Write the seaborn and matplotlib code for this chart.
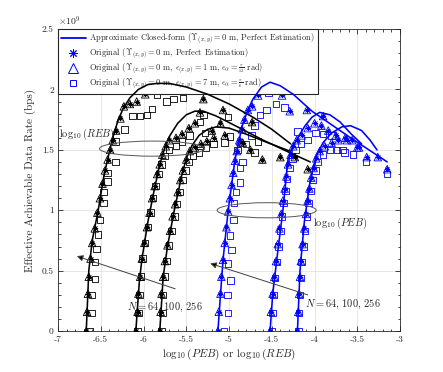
import matplotlib
matplotlib.use("Agg")
import numpy as np
import pandas as pd
import seaborn as sns
import matplotlib.pyplot as plt
from matplotlib.patches import Ellipse
from matplotlib.lines import Line2D
from matplotlib.ticker import MultipleLocator, FuncFormatter

# ---------------- data (rate in units of 1e9 bps) ----------------
# Closed-form curves: REB (black) N=256,100,64 ; PEB (blue) N=256,100,64
cf_A_x = [-6.67, -6.64, -6.60, -6.53, -6.46, -6.41, -6.36, -6.30, -6.24, -6.16, -6.06, -5.95, -5.84, -5.70, -5.50, -5.25, -5.00, -4.72, -4.50, -4.28]
cf_A_y = [0.00, 0.50, 0.75, 1.00, 1.30, 1.45, 1.60, 1.74, 1.84, 1.93, 2.00, 2.04, 2.05, 2.05, 2.02, 1.96, 1.88, 1.77, 1.67, 1.55]
cf_B_x = [-6.09, -6.05, -6.02, -5.95, -5.88, -5.81, -5.75, -5.69, -5.60, -5.50, -5.40, -5.30, -5.15, -4.90, -4.60, -4.30, -4.05]
cf_B_y = [0.00, 0.40, 0.59, 0.90, 1.15, 1.38, 1.52, 1.62, 1.72, 1.79, 1.82, 1.82, 1.78, 1.69, 1.58, 1.48, 1.40]
cf_C_x = [-5.81, -5.77, -5.72, -5.64, -5.55, -5.49, -5.43, -5.35, -5.25, -5.15, -5.00, -4.80, -4.55, -4.29]
cf_C_y = [0.00, 0.45, 0.70, 1.00, 1.30, 1.45, 1.54, 1.62, 1.67, 1.69, 1.68, 1.63, 1.56, 1.49]
cf_D_x = [-5.13, -5.10, -5.07, -5.01, -4.93, -4.89, -4.85, -4.78, -4.72, -4.62, -4.52, -4.40, -4.25, -4.03, -3.60, -3.15]
cf_D_y = [0.00, 0.30, 0.59, 1.00, 1.42, 1.55, 1.69, 1.83, 1.92, 2.02, 2.06, 2.03, 1.96, 1.82, 1.61, 1.40]
cf_E_x = [-4.52, -4.49, -4.44, -4.37, -4.31, -4.26, -4.18, -4.11, -4.03, -3.94, -3.82, -3.70, -3.57, -3.45]
cf_E_y = [0.00, 0.30, 0.60, 1.00, 1.42, 1.52, 1.62, 1.70, 1.77, 1.81, 1.79, 1.73, 1.63, 1.55]
cf_F_x = [-4.20, -4.17, -4.12, -4.05, -3.98, -3.90, -3.80, -3.68, -3.58, -3.45, -3.35, -3.27]
cf_F_y = [0.00, 0.50, 0.90, 1.25, 1.45, 1.56, 1.64, 1.69, 1.70, 1.66, 1.58, 1.50]

# Simulated points, eps=1 m (triangles; perfect-estimation stars coincide)
tri_A_x = [-6.67, -6.66, -6.65, -6.64, -6.62, -6.60, -6.57, -6.54, -6.51, -6.48, -6.45, -6.42, -6.39, -6.36, -6.32, -6.27, -6.23, -6.16, -6.08, -5.98, -5.90, -5.81, -5.73, -5.63, -5.49, -5.30, -5.07, -4.73]
tri_A_y = [0.00, 0.16, 0.31, 0.45, 0.60, 0.73, 0.85, 0.98, 1.10, 1.22, 1.33, 1.42, 1.50, 1.58, 1.66, 1.76, 1.86, 1.88, 1.90, 1.96, 2.04, 2.03, 2.02, 2.02, 2.01, 1.92, 1.83, 1.73]
tri_B_x = [-6.09, -6.07, -6.06, -6.04, -6.02, -5.99, -5.96, -5.93, -5.90, -5.87, -5.84, -5.81, -5.78, -5.74, -5.70, -5.62, -5.55, -5.47, -5.40, -5.34, -5.20, -5.10, -4.84, -4.61, -4.08]
tri_B_y = [0.00, 0.16, 0.31, 0.45, 0.60, 0.73, 0.86, 0.98, 1.10, 1.20, 1.30, 1.38, 1.46, 1.53, 1.58, 1.60, 1.63, 1.68, 1.72, 1.81, 1.66, 1.72, 1.56, 1.42, 1.34]
tri_C_x = [-5.81, -5.80, -5.79, -5.77, -5.75, -5.72, -5.69, -5.66, -5.63, -5.60, -5.57, -5.54, -5.50, -5.46, -5.40, -5.33, -5.26, -5.18, -5.05, -4.87, -4.75, -4.40, -4.23]
tri_C_y = [0.00, 0.16, 0.31, 0.45, 0.58, 0.71, 0.83, 0.95, 1.05, 1.15, 1.25, 1.33, 1.42, 1.49, 1.52, 1.55, 1.57, 1.60, 1.62, 1.57, 1.50, 1.44, 1.44]
tri_D_x = [-5.13, -5.12, -5.10, -5.09, -5.07, -5.05, -5.03, -5.01, -4.99, -4.97, -4.95, -4.93, -4.91, -4.88, -4.85, -4.82, -4.78, -4.73, -4.66, -4.60, -4.52, -4.44, -4.38, -4.29, -4.09, -3.90]
tri_D_y = [0.00, 0.16, 0.31, 0.45, 0.59, 0.73, 0.86, 0.99, 1.10, 1.21, 1.31, 1.41, 1.49, 1.58, 1.67, 1.75, 1.83, 1.86, 1.95, 2.05, 2.05, 2.03, 1.95, 1.82, 1.83, 1.78]
tri_E_x = [-4.52, -4.51, -4.49, -4.47, -4.45, -4.43, -4.41, -4.39, -4.37, -4.35, -4.33, -4.31, -4.28, -4.25, -4.21, -4.15, -4.08, -4.00, -3.92, -3.84, -3.75, -3.62, -3.50]
tri_E_y = [0.00, 0.16, 0.31, 0.45, 0.58, 0.72, 0.85, 0.97, 1.08, 1.18, 1.28, 1.38, 1.46, 1.53, 1.58, 1.62, 1.68, 1.72, 1.70, 1.66, 1.62, 1.58, 1.52]
tri_F_x = [-4.20, -4.19, -4.18, -4.17, -4.16, -4.14, -4.12, -4.10, -4.08, -4.06, -4.04, -4.01, -3.98, -3.94, -3.88, -3.80, -3.72, -3.64, -3.56, -3.48, -3.39, -3.26, -3.15]
tri_F_y = [0.00, 0.16, 0.31, 0.45, 0.58, 0.72, 0.85, 0.97, 1.08, 1.18, 1.27, 1.35, 1.43, 1.49, 1.53, 1.56, 1.58, 1.60, 1.58, 1.52, 1.44, 1.44, 1.34]

# Simulated points, eps=7 m (squares)
sq_A_x = [-6.63, -6.61, -6.60, -6.57, -6.57, -6.55, -6.53, -6.51, -6.47, -6.47, -6.42, -6.42, -6.33, -6.33, -6.22, -6.13, -6.04, -5.96, -5.90, -5.84, -5.73, -5.65, -5.54, -5.30, -5.01]
sq_A_y = [0.00, 0.15, 0.30, 0.43, 0.57, 0.68, 0.80, 0.92, 1.06, 1.15, 1.24, 1.31, 1.40, 1.57, 1.67, 1.78, 1.78, 1.79, 1.84, 1.96, 1.90, 1.92, 1.93, 1.79, 1.77]
sq_B_x = [-6.07, -6.06, -6.05, -6.03, -6.01, -5.98, -5.95, -5.92, -5.89, -5.86, -5.82, -5.79, -5.75, -5.70, -5.62, -5.55, -5.46, -5.34, -5.28, -4.99, -4.66]
sq_B_y = [0.00, 0.15, 0.30, 0.45, 0.60, 0.73, 0.86, 0.98, 1.10, 1.20, 1.30, 1.38, 1.45, 1.50, 1.53, 1.57, 1.62, 1.73, 1.64, 1.61, 1.57]
sq_C_x = [-5.79, -5.78, -5.77, -5.75, -5.73, -5.70, -5.67, -5.64, -5.61, -5.58, -5.54, -5.51, -5.47, -5.42, -5.35, -5.27, -5.18, -5.05, -4.90, -4.70]
sq_C_y = [0.00, 0.15, 0.30, 0.45, 0.58, 0.71, 0.83, 0.95, 1.05, 1.15, 1.25, 1.33, 1.40, 1.45, 1.48, 1.52, 1.55, 1.56, 1.50, 1.48]
sq_D_x = [-5.06, -5.01, -5.02, -4.98, -5.01, -4.97, -4.99, -4.95, -4.94, -4.92, -4.87, -4.87, -4.84, -4.80, -4.74, -4.70, -4.64, -4.56, -4.54, -4.45, -4.35, -4.20]
sq_D_y = [0.00, 0.15, 0.30, 0.42, 0.56, 0.67, 0.79, 0.92, 1.06, 1.15, 1.23, 1.35, 1.40, 1.55, 1.62, 1.70, 1.79, 1.83, 1.97, 1.88, 1.85, 1.65]
sq_E_x = [-4.50, -4.49, -4.48, -4.46, -4.44, -4.42, -4.40, -4.38, -4.36, -4.34, -4.32, -4.29, -4.26, -4.22, -4.16, -4.08, -3.99, -3.90, -3.80, -3.67]
sq_E_y = [0.00, 0.15, 0.30, 0.44, 0.57, 0.70, 0.83, 0.95, 1.06, 1.16, 1.26, 1.35, 1.43, 1.50, 1.55, 1.58, 1.64, 1.63, 1.62, 1.50]
sq_F_x = [-4.19, -4.18, -4.17, -4.16, -4.15, -4.13, -4.11, -4.09, -4.07, -4.05, -4.02, -3.99, -3.96, -3.90, -3.82, -3.74, -3.65, -3.55, -3.40, -3.15]
sq_F_y = [0.00, 0.15, 0.30, 0.44, 0.57, 0.70, 0.83, 0.95, 1.06, 1.16, 1.25, 1.33, 1.40, 1.46, 1.50, 1.50, 1.48, 1.46, 1.40, 1.30]

x_ticks = [-7, -6.5, -6, -5.5, -5, -4.5, -4, -3.5, -3]
y_ticks = [0, 0.5, 1, 1.5, 2, 2.5]
legend_labels = [
    r"Approximate Closed-form ($\Upsilon_{(x,y)}=0$ m, Perfect Estimation)",
    r"Original ($\Upsilon_{(x,y)}=0$ m, Perfect Estimation)",
    r"Original ($\Upsilon_{(x,y)}=0$ m, $\epsilon_{(x,y)}=1$ m, $\epsilon_{\alpha}=\genfrac{}{}{0.4}{2}{\pi}{12}$ rad)",
    r"Original ($\Upsilon_{(x,y)}=0$ m, $\epsilon_{(x,y)}=7$ m, $\epsilon_{\alpha}=\genfrac{}{}{0.4}{2}{\pi}{6}$ rad)",
]

# ---------------- style ----------------
sns.set_theme(style="ticks")
plt.rcParams["font.family"] = ["cmr10", "DejaVu Serif"]
plt.rcParams["mathtext.fontset"] = "cm"
plt.rcParams["axes.unicode_minus"] = False
plt.rcParams["axes.formatter.use_mathtext"] = True

BLACK = "#000000"
BLUE = "#0000ff"
AXC = "#262626"

fig = plt.figure(figsize=(4.43, 3.72), dpi=100)
ax = fig.add_axes([0.131, 0.110, 0.772, 0.812])

curves = [
    (cf_A_x, cf_A_y, tri_A_x, tri_A_y, sq_A_x, sq_A_y, BLACK),
    (cf_B_x, cf_B_y, tri_B_x, tri_B_y, sq_B_x, sq_B_y, BLACK),
    (cf_C_x, cf_C_y, tri_C_x, tri_C_y, sq_C_x, sq_C_y, BLACK),
    (cf_D_x, cf_D_y, tri_D_x, tri_D_y, sq_D_x, sq_D_y, BLUE),
    (cf_E_x, cf_E_y, tri_E_x, tri_E_y, sq_E_x, sq_E_y, BLUE),
    (cf_F_x, cf_F_y, tri_F_x, tri_F_y, sq_F_x, sq_F_y, BLUE),
]

star_marker = (8, 2, 0)
for cx, cy, tx, ty, qx, qy, col in curves:
    sns.scatterplot(x=qx, y=qy, marker="s", s=22, facecolor="none", edgecolor=col,
                    linewidth=0.6, ax=ax, zorder=3)
    sns.scatterplot(x=tx, y=ty, marker="^", s=30, facecolor="none", edgecolor=col,
                    linewidth=0.6, ax=ax, zorder=4)
    sns.scatterplot(x=tx, y=ty, marker=star_marker, s=12, color=col,
                    linewidth=0.5, ax=ax, zorder=5)
    sns.lineplot(x=cx, y=cy, sort=False, estimator=None, color=col, linewidth=1.15,
                 ax=ax, zorder=6)

# annotations
ax.add_patch(Ellipse((-5.90, 1.51), 1.23, 0.125, fill=False, ec="#555555", lw=0.7, zorder=7))
ax.add_patch(Ellipse((-4.56, 1.00), 1.16, 0.125, fill=False, ec="#555555", lw=0.7, zorder=7))
ax.text(-6.99, 1.63, r"$\log_{10}(REB)$", ha="left", va="center", fontsize=7.5, zorder=8)
ax.text(-4.02, 0.89, r"$\log_{10}(PEB)$", ha="left", va="center", fontsize=7.5, zorder=8)
ax.annotate("", xy=(-6.78, 0.62), xytext=(-5.63, 0.35),
            arrowprops=dict(arrowstyle="-|>", color="#404040", lw=0.7, fc="black",
                            mutation_scale=9, shrinkA=0, shrinkB=0), zorder=8)
ax.annotate("", xy=(-5.22, 0.56), xytext=(-4.08, 0.30),
            arrowprops=dict(arrowstyle="-|>", color="#404040", lw=0.7, fc="black",
                            mutation_scale=9, shrinkA=0, shrinkB=0), zorder=8)
ax.text(-6.19, 0.20, r"$N=64,\,100,\,256$", ha="left", va="center", fontsize=7.5, zorder=8)
ax.text(-4.11, 0.22, r"$N=64,\,100,\,256$", ha="left", va="center", fontsize=7.5, zorder=8)

# axes
ax.set_xlim(-7, -3)
ax.set_ylim(0, 2.5)
ax.set_xticks(x_ticks)
ax.set_yticks(y_ticks)
ax.xaxis.set_minor_locator(MultipleLocator(0.1))
ax.yaxis.set_minor_locator(MultipleLocator(0.1))
fmt = FuncFormatter(lambda v, p: "%g" % v)
ax.xaxis.set_major_formatter(fmt)
ax.yaxis.set_major_formatter(fmt)
ax.tick_params(which="both", direction="in", top=True, right=True, colors=AXC,
               labelsize=6.8, width=0.6)
ax.tick_params(which="major", length=3.5, pad=3)
ax.tick_params(which="minor", length=1.8)
ax.grid(True, which="major", color="#e3e3e3", lw=0.6)
ax.set_axisbelow(True)
for sp in ax.spines.values():
    sp.set_color(AXC)
    sp.set_linewidth(0.6)
ax.set_xlabel(r"$\log_{10}(PEB)$ or $\log_{10}(REB)$", fontsize=8, color=AXC, labelpad=2)
ax.set_ylabel("Effective Achievable Data Rate (bps)", fontsize=8, color=AXC, labelpad=4)
ax.text(0.0, 1.004, r"$\times10^{9}$", transform=ax.transAxes, ha="left", va="bottom",
        fontsize=7, color=AXC)

handles = [
    Line2D([], [], color=BLUE, lw=1.3),
    Line2D([], [], color=BLUE, lw=0, marker=star_marker, markersize=6, markeredgewidth=0.7),
    Line2D([], [], color=BLUE, lw=0, marker="^", markersize=7, mfc="none", markeredgewidth=0.7),
    Line2D([], [], color=BLUE, lw=0, marker="s", markersize=5, mfc="none", markeredgewidth=0.7),
]
leg = ax.legend(handles, legend_labels, loc="upper left", bbox_to_anchor=(0, 1),
                borderaxespad=0, fontsize=6.1, frameon=True, fancybox=False,
                edgecolor="#262626", framealpha=1, handlelength=3.0, handletextpad=0.4,
                labelspacing=0.0, borderpad=0.3)
leg.get_frame().set_linewidth(0.8)

fig.savefig("out.png", dpi=100)
